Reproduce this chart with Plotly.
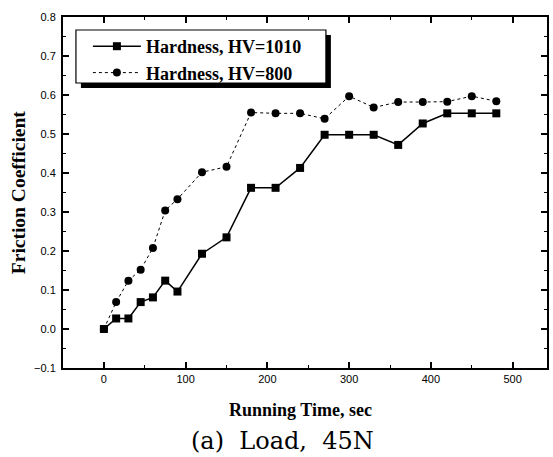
import plotly.graph_objects as go

time_s = [0, 15, 30, 45, 60, 75, 90, 120, 150, 180, 210, 240, 270, 300, 330, 360, 390, 420, 450, 480]
hv1010 = [0.0, 0.027, 0.027, 0.069, 0.081, 0.124, 0.096, 0.193, 0.235, 0.362, 0.362, 0.413, 0.498, 0.498, 0.498, 0.472, 0.527, 0.553, 0.553, 0.553]
hv800 = [0.0, 0.069, 0.124, 0.152, 0.208, 0.304, 0.333, 0.402, 0.416, 0.555, 0.553, 0.553, 0.539, 0.597, 0.568, 0.582, 0.582, 0.583, 0.597, 0.584]
names = ["<b>Hardness, HV=1010</b>", "<b>Hardness, HV=800</b>"]

W, H = 553, 457
ml, mr, mt, mb = 63, 4, 17, 89
pw, ph = W - ml - mr, H - mt - mb

def px_x(p):
    return (p - ml) / pw

def px_y(p):
    return 1 - (p - mt) / ph

fig = go.Figure()
fig.add_trace(go.Scatter(x=time_s, y=hv1010, name=names[0], mode="lines+markers",
                         line=dict(color="black", width=1.5),
                         marker=dict(symbol="square", size=8, color="black")))
fig.add_trace(go.Scatter(x=time_s, y=hv800, name=names[1], mode="lines+markers",
                         line=dict(color="black", width=1, dash="dot"),
                         marker=dict(symbol="circle", size=8, color="black")))

axis_common = dict(showgrid=False, zeroline=False, showline=True, linecolor="black",
                   linewidth=2, mirror="ticks", ticks="inside", tickcolor="black",
                   tickwidth=1.5, ticklen=6,
                   tickfont=dict(family="Liberation Sans", size=11, color="black"))

fig.update_xaxes(range=[-50, 542], dtick=100, tick0=0,
                 minor=dict(ticks="inside", dtick=50, ticklen=3, tickcolor="black", tickwidth=1),
                 **axis_common)
fig.update_yaxes(range=[-0.1, 0.8], dtick=0.1, tick0=0, tickformat=".1f",
                 ticklabelstandoff=3,
                 minor=dict(ticks="inside", dtick=0.05, ticklen=3, tickcolor="black", tickwidth=1),
                 **axis_common)

# legend frame with shadow
x0, x1 = px_x(76), px_x(327)
y0, y1 = px_y(83), px_y(30)
sx, sy = 5 / pw, 5 / ph
fig.add_shape(type="rect", xref="paper", yref="paper", x0=x0 + sx, x1=x1 + sx, y0=y0 - sy, y1=y1 - sy,
              fillcolor="black", line=dict(color="black", width=0), layer="above")
fig.add_shape(type="rect", xref="paper", yref="paper", x0=x0, x1=x1, y0=y0, y1=y1,
              fillcolor="white", line=dict(color="black", width=1.2), layer="above")

fig.update_layout(
    width=W, height=H,
    margin=dict(l=ml, r=mr, t=mt, b=mb),
    paper_bgcolor="white", plot_bgcolor="white",
    showlegend=True,
    legend=dict(x=px_x(88), y=px_y(28), xanchor="left", yanchor="top",
                bgcolor="rgba(0,0,0,0)", borderwidth=0, itemwidth=48,
                font=dict(family="Liberation Serif", size=18, color="black"),
                tracegroupgap=0),
    annotations=[
        dict(text="<b>Running Time, sec</b>", xref="paper", yref="paper",
             x=px_x(301), y=px_y(410), xanchor="center", yanchor="middle", showarrow=False,
             font=dict(family="Liberation Serif", size=18, color="black")),
        dict(text="(a)  Load,  45N", xref="paper", yref="paper",
             x=px_x(283), y=px_y(441), xanchor="center", yanchor="middle", showarrow=False,
             font=dict(family="DejaVu Serif", size=24, color="black")),
        dict(text="<b>Friction Coefficient</b>", xref="paper", yref="paper",
             x=px_x(18), y=px_y(193), xanchor="center", yanchor="middle", showarrow=False,
             textangle=-90, font=dict(family="Liberation Serif", size=19.5, color="black")),
    ],
)
fig.write_html("out.html", config={"displayModeBar": False},
               post_script="document.body.style.margin='0';")
